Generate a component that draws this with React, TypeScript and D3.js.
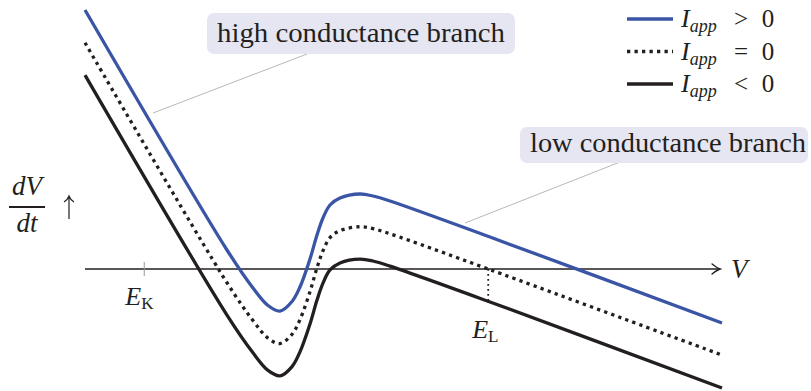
import React from "react";
import * as d3 from "d3";

// V positions (arbitrary units) of the sampled points
const vSamples = [0, 2.229, 2.637, 2.873, 3.061, 3.25, 3.375, 3.532, 3.642, 3.736, 3.846, 4.003, 4.317, 4.521, 4.788, 6.358, 10];
// dV/dt for I_app > 0
const iPos = [8.094, 0.594, -0.594, -1.141, -1.313, -1.016, -0.563, 0.313, 1.063, 1.594, 2.0, 2.219, 2.344, 2.281, 2.125, 1.0, -1.688];
// dV/dt for I_app = 0
const iZero = [7.07, -0.43, -1.61, -2.16, -2.33, -2.04, -1.58, -0.71, 0.04, 0.57, 0.98, 1.2, 1.32, 1.26, 1.1, -0.02, -2.69];
// dV/dt for I_app < 0
const iNeg = [6.06, -1.44, -2.62, -3.17, -3.34, -3.05, -2.59, -1.72, -0.97, -0.44, -0.03, 0.19, 0.31, 0.25, 0.09, -1.03, -3.72];

const EK = 0.93;
const EL = 6.33;

const legendSymbols = [">", "=", "<"];

const BLUE = "#3a55a5";
const INK = "#231f20";
const T = { fontFamily: "Liberation Serif" } as React.CSSProperties;

export default function App() {
  const x = d3.scaleLinear().domain([0, 10]).range([85, 722]);
  const y = d3.scaleLinear().domain([0, 1]).range([269, 237]);
  const line = d3
    .line<number>()
    .x((_, i) => x(vSamples[i]))
    .y((d) => y(d))
    .curve(d3.curveCatmullRom.alpha(0.5));

  const series = [
    { data: iPos, color: BLUE, dash: undefined as string | undefined },
    { data: iZero, color: INK, dash: "3.3,4.2" },
    { data: iNeg, color: INK, dash: undefined as string | undefined },
  ];

  const axisEnd = x(9.97);
  const y0 = y(0);

  return (
    <svg width={811} height={391} style={{ position: "absolute", left: 0, top: 0 }}>
      <rect width={811} height={391} fill="#fff" />
      {/* connector lines */}
      <line x1={307} y1={54} x2={153} y2={113} stroke="#b0b0b0" strokeWidth={0.9} />
      <line x1={620} y1={162} x2={465} y2={223} stroke="#b0b0b0" strokeWidth={0.9} />
      {/* label boxes */}
      <rect x={207} y={13} width={308} height={41} rx={7} fill="#e6e5f2" />
      <text style={T} x={217} y={41.5} fontSize={27} fill={INK} textLength={288} lengthAdjust="spacingAndGlyphs">
        high conductance branch
      </text>
      <rect x={520} y={127} width={288} height={36} rx={7} fill="#e6e5f2" />
      <text style={T} x={530} y={152} fontSize={27} fill={INK} textLength={276} lengthAdjust="spacingAndGlyphs">
        low conductance branch
      </text>

      {/* axis */}
      <line x1={x(0)} y1={y0} x2={axisEnd} y2={y0} stroke={INK} strokeWidth={1.6} />
      <path
        d={`M${axisEnd - 8},${y0 - 5} Q${axisEnd - 3},${y0 - 1} ${axisEnd},${y0} Q${axisEnd - 3},${y0 + 1} ${axisEnd - 8},${y0 + 5}`}
        fill="none"
        stroke={INK}
        strokeWidth={1.5}
        strokeLinecap="round"
      />
      <text style={T} x={731} y={278} fontSize={27} fontStyle="italic" fill={INK}>V</text>

      {/* E_K tick */}
      <line x1={x(EK)} y1={y0 - 7} x2={x(EK)} y2={y0 + 7} stroke="#999" strokeWidth={1} />
      <text style={T} x={x(EK) - 19} y={305} fontSize={26} fontStyle="italic" fill={INK}>
        E<tspan fontStyle="normal" fontSize={17} dy={4}>K</tspan>
      </text>

      {/* E_L */}
      <line x1={x(EL)} y1={y0} x2={x(EL)} y2={y0 + 35} stroke={INK} strokeWidth={1.8} strokeDasharray="1.8,3.2" />
      <text style={T} x={x(EL) - 16} y={338} fontSize={26} fontStyle="italic" fill={INK}>
        E<tspan fontStyle="normal" fontSize={17} dy={4}>L</tspan>
      </text>

      {/* curves */}
      {series.map((s, i) => (
        <path
          key={i}
          d={line(s.data) || ""}
          fill="none"
          stroke={s.color}
          strokeWidth={3.3}
          strokeDasharray={s.dash}
        />
      ))}

      {/* y label */}
      <text style={T} x={27} y={195} fontSize={27} fontStyle="italic" textAnchor="middle" fill={INK}>dV</text>
      <line x1={9} y1={207} x2={45} y2={207} stroke={INK} strokeWidth={2} />
      <text style={T} x={27} y={232} fontSize={27} fontStyle="italic" textAnchor="middle" fill={INK}>dt</text>
      <path d="M69,219 L69,197 M64,202 Q67.5,200 69,196 Q70.5,200 74,202" fill="none" stroke={INK} strokeWidth={1.2} />

      {/* legend */}
      {series.map((s, i) => {
        const ly = 19 + i * 32.5;
        return (
          <g key={i}>
            <line x1={627} y1={ly} x2={673} y2={ly} stroke={s.color} strokeWidth={3.3} strokeDasharray={s.dash} />
            <text style={T} x={681} y={ly + 8} fontSize={26} fontStyle="italic" fill={INK}>
              I<tspan fontSize={18} dy={5}>app</tspan>
            </text>
            <text style={T} x={741} y={ly + 8} fontSize={25} textAnchor="middle" fill={INK}>{legendSymbols[i]}</text>
            <text style={T} x={768} y={ly + 8} fontSize={25} textAnchor="middle" fill={INK}>0</text>
          </g>
        );
      })}
    </svg>
  );
}
